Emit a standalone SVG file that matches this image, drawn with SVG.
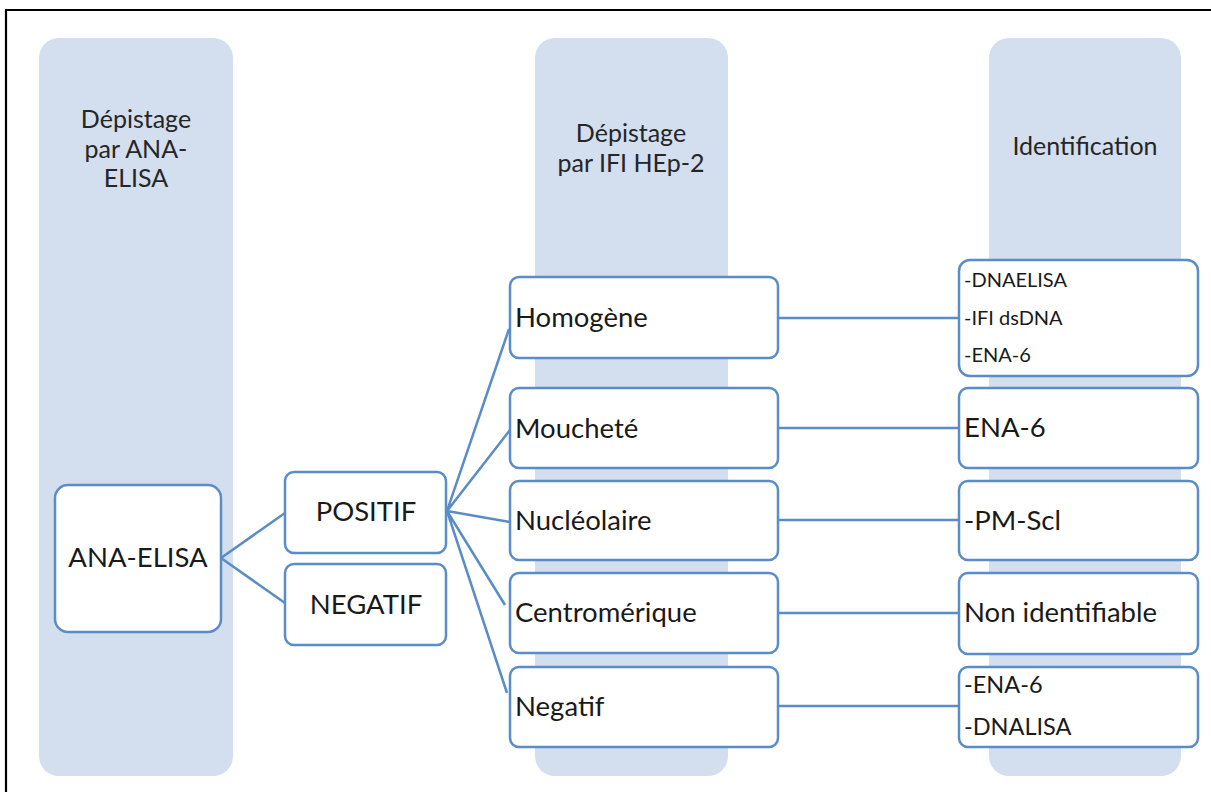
<svg xmlns="http://www.w3.org/2000/svg" width="1211" height="792" viewBox="0 0 1211 792">
<style>
.col{fill:#D3DEEE;}
.box{fill:#FFFFFF;stroke:#5A8CC8;stroke-width:2.5;}
.con{fill:none;stroke:#5A8CC8;stroke-width:2.5;}
.hd{font-family:Lato,"Open Sans",sans-serif;font-size:25px;fill:#262626;text-anchor:middle;}
.t{font-family:Lato,"Open Sans",sans-serif;font-size:27.5px;fill:#1A1A1A;}
.s{font-family:Lato,"Open Sans",sans-serif;font-size:20px;fill:#1A1A1A;}
</style>
<rect x="0" y="0" width="1211" height="792" fill="#FFFFFF"/>
<path d="M6,792 V10 H1211" fill="none" stroke="#000000" stroke-width="2.2"/>
<g id="col1"><rect class="col" x="39" y="38" width="194" height="738" rx="20"/>
<text class="hd" x="136" y="128">Dépistage</text>
<text class="hd" x="136" y="157.5">par ANA-</text>
<text class="hd" x="136" y="187">ELISA</text></g>
<g id="col2"><rect class="col" x="535" y="38" width="193" height="738" rx="20"/>
<text class="hd" x="631" y="141.5">Dépistage</text>
<text class="hd" x="631" y="171.5">par IFI HEp-2</text></g>
<g id="col3"><rect class="col" x="989" y="38" width="192" height="738" rx="20"/>
<text class="hd" x="1085" y="155">Identification</text></g>
<g id="connectors">
<path class="con" d="M221,558 L285,513 M221,558 L285,603"/>
<path class="con" d="M447,511 L509,329 M447,511 L510,430 M447,511 L510,522 M447,511 L505,605 M447,511 L507,693"/>
<path class="con" d="M778,318 H959 M778,428 H959 M778,520 H959 M778,613 H959 M778,706 H959"/>
</g>
<g id="ana-elisa"><rect class="box" x="55" y="485" width="166" height="147" rx="13"/>
<text class="t" x="138" y="567" text-anchor="middle">ANA-ELISA</text></g>
<g id="positif"><rect class="box" x="285" y="472" width="161" height="81" rx="9"/>
<text class="t" x="366" y="521" text-anchor="middle">POSITIF</text></g>
<g id="negatif"><rect class="box" x="285" y="564" width="161" height="81" rx="9"/>
<text class="t" x="366" y="614" text-anchor="middle">NEGATIF</text></g>
<g id="homogene"><rect class="box" x="510" y="277" width="268" height="81" rx="9"/>
<text class="t" x="515" y="327">Homogène</text></g>
<g id="mouchete"><rect class="box" x="510" y="388" width="268" height="80" rx="9"/>
<text class="t" x="515" y="437.5">Moucheté</text></g>
<g id="nucleolaire"><rect class="box" x="510" y="481" width="268" height="79" rx="9"/>
<text class="t" x="515" y="530">Nucléolaire</text></g>
<g id="centromerique"><rect class="box" x="510" y="573" width="268" height="80" rx="9"/>
<text class="t" x="515" y="622">Centromérique</text></g>
<g id="negatif2"><rect class="box" x="510" y="667" width="268" height="80" rx="9"/>
<text class="t" x="515" y="715.5">Negatif</text></g>
<g id="id-homogene"><rect class="box" x="959" y="260" width="239" height="116" rx="11"/>
<text class="s" x="964" y="287">-DNAELISA</text>
<text class="s" x="964" y="325">-IFI dsDNA</text>
<text class="s" x="964" y="362">-ENA-6</text></g>
<g id="id-mouchete"><rect class="box" x="959" y="388" width="239" height="80" rx="9"/>
<text class="t" x="964" y="437">ENA-6</text></g>
<g id="id-nucleolaire"><rect class="box" x="959" y="481" width="239" height="79" rx="9"/>
<text class="t" x="964" y="530">-PM-Scl</text></g>
<g id="id-centromerique"><rect class="box" x="959" y="573" width="239" height="81" rx="9"/>
<text class="t" x="964" y="622">Non identifiable</text></g>
<g id="id-negatif"><rect class="box" x="959" y="667" width="239" height="80" rx="9"/>
<text class="s" x="964" y="693" style="font-size:23.5px">-ENA-6</text>
<text class="s" x="964" y="735" style="font-size:23.5px">-DNALISA</text></g>
</svg>
